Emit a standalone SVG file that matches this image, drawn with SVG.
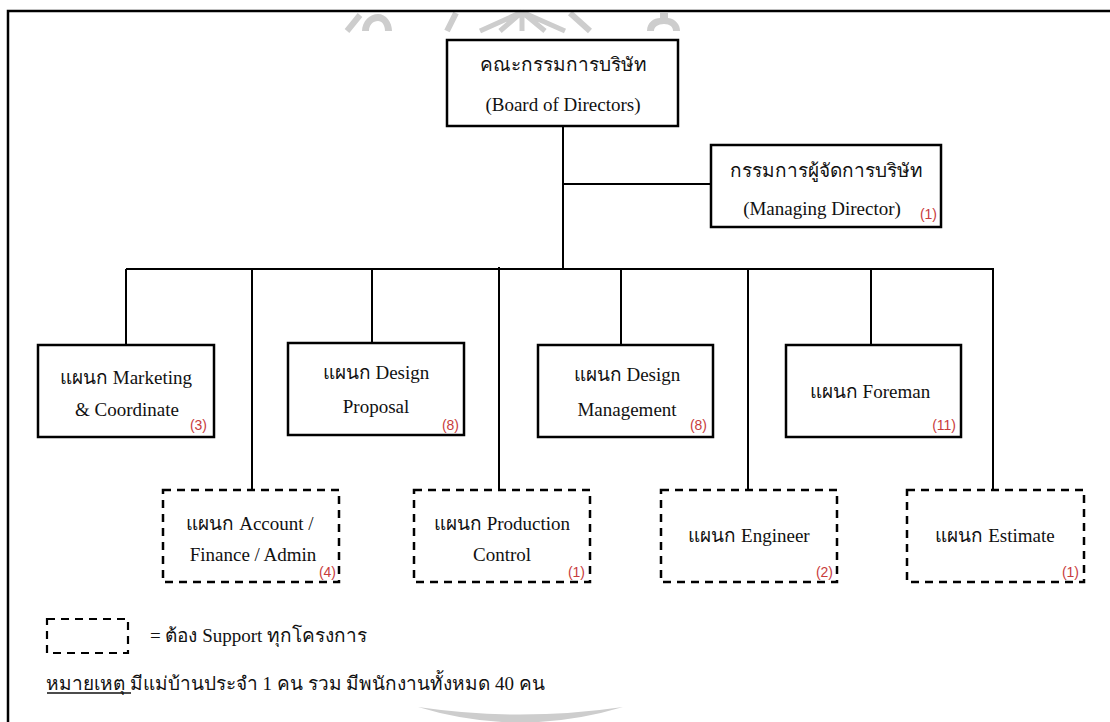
<svg xmlns="http://www.w3.org/2000/svg" width="1110" height="722" viewBox="0 0 1110 722">
  <style>
    .box { fill: #ffffff; stroke: #000000; stroke-width: 2.5; }
    .dash { fill: #ffffff; stroke: #000000; stroke-width: 2.5; stroke-dasharray: 8 6; }
    .wire { fill: none; stroke: #000000; stroke-width: 2; }
    .t { font-family: "Liberation Serif", "Noto Sans", "DejaVu Sans", serif; font-size: 19px; fill: #111111; text-anchor: middle; }
    .n { font-family: "Liberation Sans", Arial, sans-serif; font-size: 14px; fill: #c83c3c; text-anchor: end; }
    .note { font-family: "Liberation Serif", "Noto Sans", "DejaVu Sans", serif; font-size: 19px; fill: #111111; }
    .mark { fill: #cdcdcd; stroke: none; }
    .markline { fill: none; stroke: #cdcdcd; stroke-width: 6; stroke-linecap: butt; }
  </style>

  <rect x="0" y="0" width="1110" height="722" fill="#ffffff"/>

  <!-- faint emblem fragments above the frame and arc below -->
  <g id="emblem">
    <path class="markline" d="M347,31 L360,15"/>
    <path class="mark" d="M362,31 C362,21 370,14 378,14 C386,14 392,22 392,31 L385,31 C385,25 382,21 378,21 C373,21 369,25 369,31 Z"/>
    <path class="markline" d="M447,31 L456,13"/>
    <path class="markline" d="M522,12 L480,31 M522,12 L500,31 M522,12 L522,31 M522,12 L545,31 M522,12 L565,31" style="stroke-width:5"/>
    <path class="markline" d="M570,13 L590,31"/>
    <path class="mark" d="M647,31 C647,22 654,18 660,18 L660,13 L668,13 L668,18 C676,19 680,25 680,31 L673,31 C673,27 670,24 664,24 C658,24 654,27 654,31 Z"/>
    <path class="mark" d="M418,707 Q520,722 623,707 Q520,738 418,707 Z"/>
  </g>

  <!-- outer frame -->
  <path d="M8,722 L8,11 L1110,11" fill="none" stroke="#000000" stroke-width="2.5"/>

  <!-- connectors -->
  <g id="connectors">
    <path class="wire" d="M563,126 L563,269"/>
    <path class="wire" d="M563,184 L711,184"/>
    <path class="wire" d="M126,269 L994,269"/>
    <path class="wire" d="M126,269 L126,345"/>
    <path class="wire" d="M372,269 L372,343"/>
    <path class="wire" d="M621,269 L621,345"/>
    <path class="wire" d="M871,269 L871,345"/>
    <path class="wire" d="M252,269 L252,490"/>
    <path class="wire" d="M499,267 L499,490"/>
    <path class="wire" d="M748,269 L748,490"/>
    <path class="wire" d="M993,269 L993,490"/>
  </g>

  <g id="board">
    <rect class="box" x="447" y="40" width="231" height="86"/>
    <text class="t" x="563" y="71">คณะกรรมการบริษัท</text>
    <text class="t" x="563" y="111">(Board of Directors)</text>
  </g>

  <g id="managing-director">
    <rect class="box" x="711" y="145" width="230" height="82"/>
    <text class="t" x="826" y="177">กรรมการผู้จัดการบริษัท</text>
    <text class="t" x="822" y="215">(Managing Director)</text>
    <text class="n" x="937" y="219">(1)</text>
  </g>

  <g id="marketing">
    <rect class="box" x="38" y="345" width="176" height="92"/>
    <text class="t" x="126" y="384">แผนก Marketing</text>
    <text class="t" x="127" y="416">&amp; Coordinate</text>
    <text class="n" x="207" y="430">(3)</text>
  </g>

  <g id="design-proposal">
    <rect class="box" x="288" y="343" width="176" height="92"/>
    <text class="t" x="376" y="379">แผนก Design</text>
    <text class="t" x="376" y="413">Proposal</text>
    <text class="n" x="459" y="430">(8)</text>
  </g>

  <g id="design-management">
    <rect class="box" x="538" y="345" width="175" height="92"/>
    <text class="t" x="627" y="381">แผนก Design</text>
    <text class="t" x="627" y="416">Management</text>
    <text class="n" x="707" y="430">(8)</text>
  </g>

  <g id="foreman">
    <rect class="box" x="786" y="345" width="175" height="92"/>
    <text class="t" x="870" y="398">แผนก Foreman</text>
    <text class="n" x="956" y="430">(11)</text>
  </g>

  <g id="account">
    <rect class="dash" x="163" y="490" width="176" height="92"/>
    <text class="t" x="250" y="530">แผนก Account /</text>
    <text class="t" x="253" y="561">Finance / Admin</text>
    <text class="n" x="336" y="577">(4)</text>
  </g>

  <g id="production">
    <rect class="dash" x="414" y="490" width="176" height="92"/>
    <text class="t" x="502" y="530">แผนก Production</text>
    <text class="t" x="502" y="561">Control</text>
    <text class="n" x="585" y="577">(1)</text>
  </g>

  <g id="engineer">
    <rect class="dash" x="661" y="490" width="176" height="92"/>
    <text class="t" x="749" y="542">แผนก Engineer</text>
    <text class="n" x="833" y="577">(2)</text>
  </g>

  <g id="estimate">
    <rect class="dash" x="907" y="490" width="177" height="92"/>
    <text class="t" x="995" y="542">แผนก Estimate</text>
    <text class="n" x="1079" y="577">(1)</text>
  </g>

  <!-- legend and footnote -->
  <g id="legend">
    <rect x="47" y="619" width="81" height="34" fill="none" stroke="#000000" stroke-width="2.2" stroke-dasharray="8 6"/>
    <text class="note" x="150" y="642">= ต้อง Support ทุกโครงการ</text>
    <text class="note" x="46" y="690">หมายเหตุ มีแม่บ้านประจำ 1 คน รวม มีพนักงานทั้งหมด 40 คน</text>
    <path d="M47,693 L131,693" stroke="#111111" stroke-width="1.3"/>
  </g>
</svg>
